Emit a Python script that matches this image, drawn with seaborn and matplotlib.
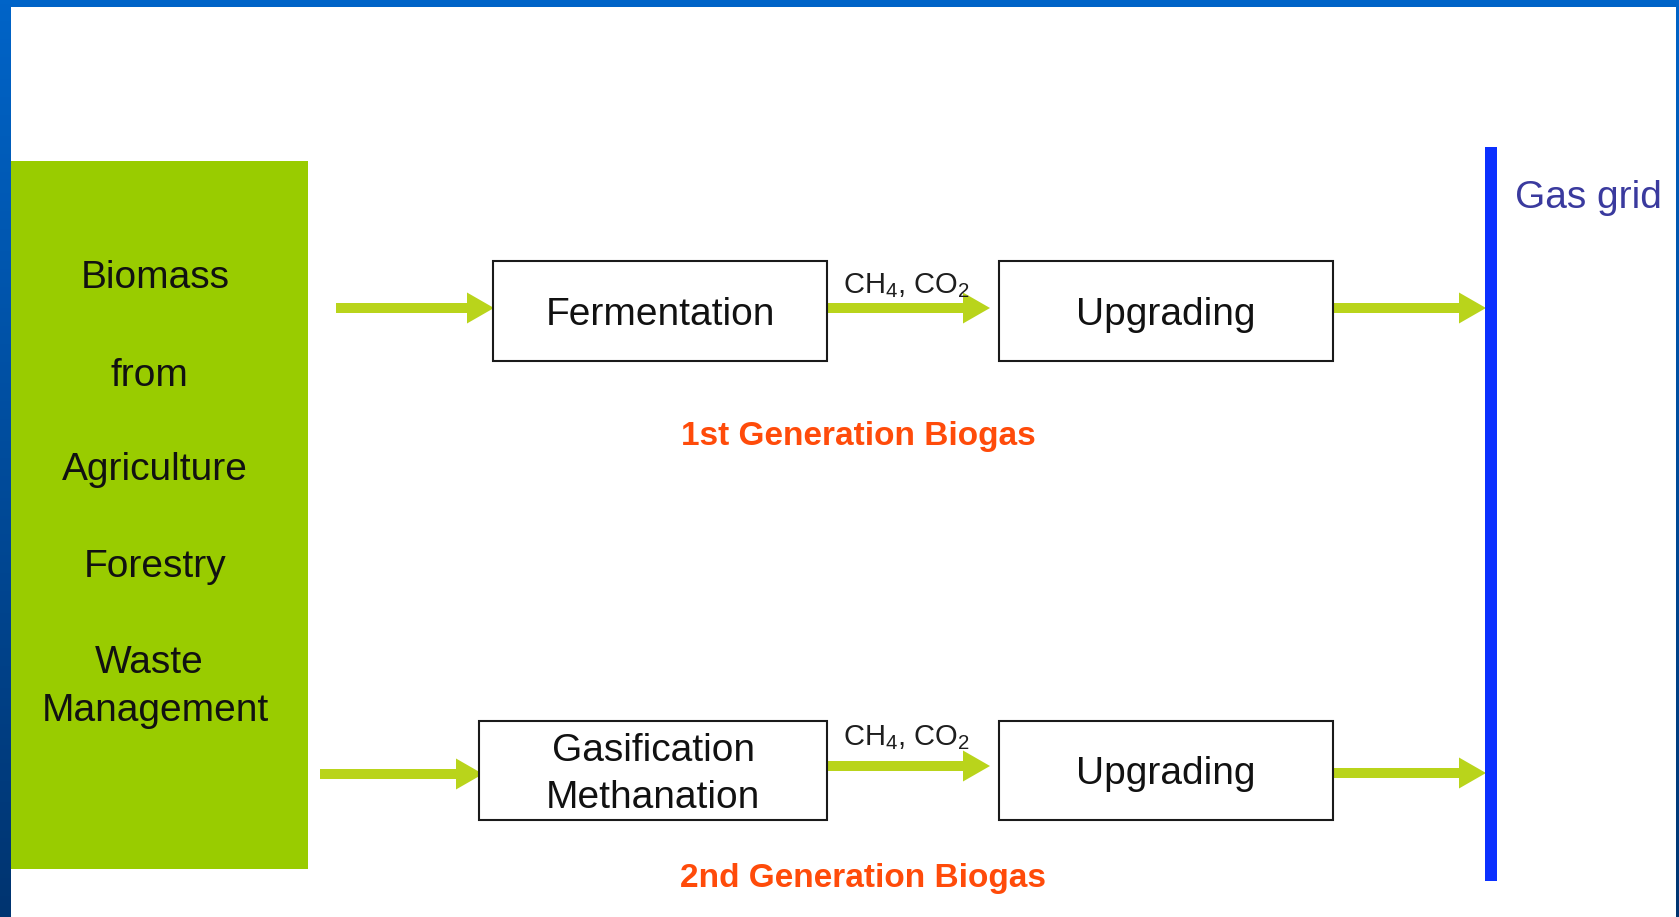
import matplotlib
matplotlib.use('Agg')
import numpy as np
import matplotlib.pyplot as plt
from matplotlib.patches import Rectangle
import seaborn as sns

# ---------------------------
# Content
# ---------------------------
source_lines = ["Biomass", "from", "Agriculture", "Forestry", "Waste", "Management"]
top_steps = ["Fermentation", "Upgrading"]
bottom_steps = ["Gasification\nMethanation", "Upgrading"]
gas_label = r"CH$_\mathregular{4}$, CO$_\mathregular{2}$"
route_labels = ["1st Generation Biogas", "2nd Generation Biogas"]
grid_label = "Gas grid"

# ---------------------------
# Layout (pixel coords, y down)
# ---------------------------
W, H = 1679, 917
src_box = (11, 161, 297, 708)           # x, y, w, h
src_x = [155, 149, 155, 155, 149, 155]
src_base = [288, 386, 480, 577, 673, 721]
step_boxes = [[(493, 261, 334, 100), (999, 261, 334, 100)],
              [(479, 721, 348, 99), (999, 721, 334, 99)]]
arrows = [[(336, 308, 494), (827, 308, 990), (1333, 308, 1486)],
          [(320, 774, 483), (827, 766, 990), (1333, 773, 1486)]]
gas_pos = [(843, 293), (843, 745)]
route_pos = [(858, 445), (863, 887)]
grid_bar = (1485, 147, 12, 734)

GREEN = "#99cc00"
ARROW = "#b9d41b"
ORANGE = "#ff4b0a"
BAR = "#0b30ff"

sns.set_theme(style="white")
plt.rcParams['font.family'] = ['Liberation Sans', 'DejaVu Sans']

fig = plt.figure(figsize=(W / 100, H / 100), dpi=100)
ax = fig.add_axes([0, 0, 1, 1])
ax.set_xlim(0, W)
ax.set_ylim(H, 0)
ax.axis('off')

# slide background: blue gradient with a white panel
top = np.array([0, 100, 200]) / 255
bot = np.array([0, 52, 112]) / 255
t = np.linspace(0, 1, 256)[:, None, None]
grad = top * (1 - t) + bot * t
ax.imshow(grad, extent=(0, W, H, 0), aspect='auto', zorder=0)
ax.add_patch(Rectangle((11, 7), 1665, H - 7, facecolor='white', edgecolor='none', zorder=1))

# biomass source box
ax.add_patch(Rectangle(src_box[:2], src_box[2], src_box[3], facecolor=GREEN,
                       edgecolor='none', zorder=2))
for txt, x, y in zip(source_lines, src_x, src_base):
    ax.text(x, y, txt, ha='center', va='baseline', fontsize=28, color='#111111', zorder=3)

# process boxes
for steps, boxes in zip([top_steps, bottom_steps], step_boxes):
    for txt, (x, y, w, h) in zip(steps, boxes):
        ax.add_patch(Rectangle((x, y), w, h, facecolor='white', edgecolor='#1a1a1a',
                               linewidth=1.5, zorder=3))
        ax.text(x + w / 2, y + h / 2 + 4, txt, ha='center', va='center', fontsize=28,
                color='#111111', linespacing=1.4, zorder=4)

# arrows
for row in arrows:
    for x0, y, x1 in row:
        ax.arrow(x0, y, x1 - x0, 0, width=10, head_width=31, head_length=27,
                 length_includes_head=True, facecolor=ARROW, edgecolor='none', zorder=2)

for x, y in gas_pos:
    ax.text(x, y, gas_label, ha='left', va='baseline', fontsize=21, color='#1e1e1e', zorder=5)

for txt, (x, y) in zip(route_labels, route_pos):
    ax.text(x, y, txt, ha='center', va='baseline', fontsize=24, fontweight='bold',
            color=ORANGE, zorder=5)

# gas grid bar
ax.add_patch(Rectangle(grid_bar[:2], grid_bar[2], grid_bar[3], facecolor=BAR,
                       edgecolor='none', zorder=4))
ax.text(1515, 208, grid_label, ha='left', va='baseline', fontsize=28, color='#3a3a9e', zorder=5)

fig.savefig("out.png", dpi=100)
plt.close(fig)
